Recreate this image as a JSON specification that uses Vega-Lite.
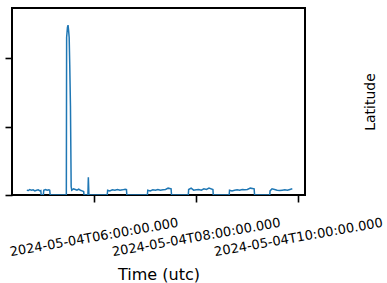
{
  "$schema": "https://vega.github.io/schema/vega-lite/v6.json",
  "width": 293,
  "height": 187,
  "autosize": {"type": "none"},
  "padding": {"left": 12, "top": 8, "right": 82, "bottom": 88},
  "config": {
    "font": "DejaVu Sans",
    "view": {"stroke": "black", "strokeWidth": 2},
    "axis": {"grid": false, "domain": false, "tickColor": "black", "tickWidth": 1.6, "tickSize": 7, "labelColor": "black", "titleColor": "black", "titleFontWeight": "normal"}
  },
  "data": {"values": [
    {"t": "2024-05-04T04:41:36Z", "v": 0.07},
    {"t": "2024-05-04T04:43:30Z", "v": 0.065},
    {"t": "2024-05-04T04:45:00Z", "v": 0.08},
    {"t": "2024-05-04T04:47:00Z", "v": 0.07},
    {"t": "2024-05-04T04:49:00Z", "v": 0.075},
    {"t": "2024-05-04T04:51:00Z", "v": 0.06},
    {"t": "2024-05-04T04:53:00Z", "v": 0.07},
    {"t": "2024-05-04T04:55:00Z", "v": 0.075},
    {"t": "2024-05-04T04:57:00Z", "v": 0.06},
    {"t": "2024-05-04T04:58:00Z", "v": 0.065},
    {"t": "2024-05-04T04:58:30Z", "v": 0.0},
    {"t": "2024-05-04T05:01:00Z", "v": 0.0},
    {"t": "2024-05-04T05:01:30Z", "v": 0.07},
    {"t": "2024-05-04T05:03:30Z", "v": 0.08},
    {"t": "2024-05-04T05:05:30Z", "v": 0.07},
    {"t": "2024-05-04T05:07:30Z", "v": 0.075},
    {"t": "2024-05-04T05:08:30Z", "v": 0.07},
    {"t": "2024-05-04T05:09:00Z", "v": 0.0},
    {"t": "2024-05-04T05:28:00Z", "v": 0.0},
    {"t": "2024-05-04T05:28:20Z", "v": 2.3},
    {"t": "2024-05-04T05:29:20Z", "v": 2.45},
    {"t": "2024-05-04T05:30:00Z", "v": 2.48},
    {"t": "2024-05-04T05:30:40Z", "v": 2.4},
    {"t": "2024-05-04T05:31:20Z", "v": 2.3},
    {"t": "2024-05-04T05:32:00Z", "v": 1.9},
    {"t": "2024-05-04T05:32:50Z", "v": 1.3},
    {"t": "2024-05-04T05:33:40Z", "v": 0.12},
    {"t": "2024-05-04T05:34:20Z", "v": 0.07},
    {"t": "2024-05-04T05:36:30Z", "v": 0.09},
    {"t": "2024-05-04T05:38:30Z", "v": 0.08},
    {"t": "2024-05-04T05:40:30Z", "v": 0.07},
    {"t": "2024-05-04T05:42:30Z", "v": 0.085},
    {"t": "2024-05-04T05:44:30Z", "v": 0.07},
    {"t": "2024-05-04T05:46:30Z", "v": 0.06},
    {"t": "2024-05-04T05:48:20Z", "v": 0.05},
    {"t": "2024-05-04T05:48:50Z", "v": 0.0},
    {"t": "2024-05-04T05:53:20Z", "v": 0.0},
    {"t": "2024-05-04T05:53:50Z", "v": 0.26},
    {"t": "2024-05-04T05:54:30Z", "v": 0.0},
    {"t": "2024-05-04T06:16:00Z", "v": 0.0},
    {"t": "2024-05-04T06:16:30Z", "v": 0.07},
    {"t": "2024-05-04T06:19:00Z", "v": 0.06},
    {"t": "2024-05-04T06:22:00Z", "v": 0.075},
    {"t": "2024-05-04T06:25:00Z", "v": 0.07},
    {"t": "2024-05-04T06:28:00Z", "v": 0.08},
    {"t": "2024-05-04T06:31:00Z", "v": 0.07},
    {"t": "2024-05-04T06:34:00Z", "v": 0.075},
    {"t": "2024-05-04T06:37:00Z", "v": 0.085},
    {"t": "2024-05-04T06:38:36Z", "v": 0.08},
    {"t": "2024-05-04T06:39:00Z", "v": 0.0},
    {"t": "2024-05-04T07:03:10Z", "v": 0.0},
    {"t": "2024-05-04T07:03:36Z", "v": 0.07},
    {"t": "2024-05-04T07:06:30Z", "v": 0.06},
    {"t": "2024-05-04T07:09:30Z", "v": 0.075},
    {"t": "2024-05-04T07:12:30Z", "v": 0.07},
    {"t": "2024-05-04T07:15:30Z", "v": 0.08},
    {"t": "2024-05-04T07:18:30Z", "v": 0.07},
    {"t": "2024-05-04T07:21:30Z", "v": 0.075},
    {"t": "2024-05-04T07:24:30Z", "v": 0.08},
    {"t": "2024-05-04T07:27:30Z", "v": 0.1},
    {"t": "2024-05-04T07:31:00Z", "v": 0.09},
    {"t": "2024-05-04T07:31:30Z", "v": 0.0},
    {"t": "2024-05-04T07:51:10Z", "v": 0.0},
    {"t": "2024-05-04T07:51:36Z", "v": 0.08},
    {"t": "2024-05-04T07:54:30Z", "v": 0.1},
    {"t": "2024-05-04T07:57:30Z", "v": 0.07},
    {"t": "2024-05-04T08:00:30Z", "v": 0.075},
    {"t": "2024-05-04T08:03:30Z", "v": 0.08},
    {"t": "2024-05-04T08:06:30Z", "v": 0.07},
    {"t": "2024-05-04T08:09:30Z", "v": 0.09},
    {"t": "2024-05-04T08:12:30Z", "v": 0.08},
    {"t": "2024-05-04T08:15:30Z", "v": 0.1},
    {"t": "2024-05-04T08:20:06Z", "v": 0.08},
    {"t": "2024-05-04T08:20:30Z", "v": 0.0},
    {"t": "2024-05-04T08:39:10Z", "v": 0.0},
    {"t": "2024-05-04T08:39:36Z", "v": 0.07},
    {"t": "2024-05-04T08:42:30Z", "v": 0.06},
    {"t": "2024-05-04T08:45:30Z", "v": 0.07},
    {"t": "2024-05-04T08:48:30Z", "v": 0.075},
    {"t": "2024-05-04T08:51:30Z", "v": 0.07},
    {"t": "2024-05-04T08:54:30Z", "v": 0.08},
    {"t": "2024-05-04T08:57:30Z", "v": 0.075},
    {"t": "2024-05-04T09:00:30Z", "v": 0.08},
    {"t": "2024-05-04T09:04:00Z", "v": 0.1},
    {"t": "2024-05-04T09:08:30Z", "v": 0.09},
    {"t": "2024-05-04T09:09:00Z", "v": 0.0},
    {"t": "2024-05-04T09:26:50Z", "v": 0.0},
    {"t": "2024-05-04T09:27:12Z", "v": 0.06},
    {"t": "2024-05-04T09:29:30Z", "v": 0.09},
    {"t": "2024-05-04T09:32:30Z", "v": 0.08},
    {"t": "2024-05-04T09:35:30Z", "v": 0.07},
    {"t": "2024-05-04T09:38:30Z", "v": 0.065},
    {"t": "2024-05-04T09:41:30Z", "v": 0.07},
    {"t": "2024-05-04T09:44:30Z", "v": 0.075},
    {"t": "2024-05-04T09:47:30Z", "v": 0.07},
    {"t": "2024-05-04T09:50:30Z", "v": 0.08},
    {"t": "2024-05-04T09:53:18Z", "v": 0.09}
  ]},
  "mark": {"type": "line", "color": "#1f77b4", "strokeWidth": 1.5, "clip": true},
  "encoding": {
    "x": {
      "field": "t", "type": "temporal",
      "scale": {"type": "utc", "nice": false, "domain": [
        {"year": 2024, "month": 5, "date": 4, "hours": 4, "minutes": 24, "seconds": 12, "utc": true},
        {"year": 2024, "month": 5, "date": 4, "hours": 10, "minutes": 8, "seconds": 12, "utc": true}
      ]},
      "axis": {
        "values": [
          {"year": 2024, "month": 5, "date": 4, "hours": 6, "utc": true},
          {"year": 2024, "month": 5, "date": 4, "hours": 8, "utc": true},
          {"year": 2024, "month": 5, "date": 4, "hours": 10, "utc": true}
        ],
        "labelExpr": "utcFormat(datum.value, '%Y-%m-%dT%H:%M:%S.%L')",
        "labelAngle": 350, "labelAlign": "center", "labelBaseline": "middle",
        "labelPadding": 35, "labelFontSize": 13, "labelOverlap": false, "labelBound": false, "labelFlush": false,
        "title": "Time (utc)", "titleFontSize": 16, "titleY": 84, "titleBaseline": "alphabetic"
      }
    },
    "y": {
      "field": "v", "type": "quantitative",
      "scale": {"domain": [0, 2.73], "nice": false, "zero": false},
      "axis": {
        "values": [0, 1, 2], "labels": false,
        "title": "Latitude", "titleFontSize": 14, "titleAngle": 270,
        "titleX": 358, "titleY": 93.5, "titleAlign": "center", "titleBaseline": "middle"
      }
    }
  }
}
